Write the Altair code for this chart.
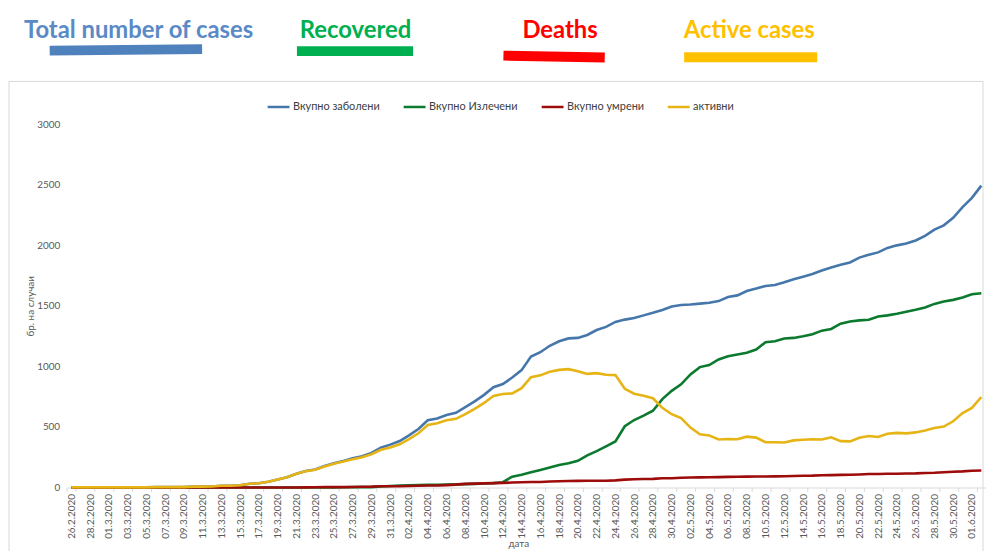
import datetime as dt
import altair as alt
import pandas as pd

# ---------------- data ----------------
start = dt.date(2020, 2, 26)
dates = [f"{d.day:02d}.{d.month}.{d.year}" for d in (start + dt.timedelta(days=i) for i in range(98))]

total = [1, 1, 1, 1, 1, 1, 1, 1, 1,
         3, 3, 3, 3, 7, 7, 9, 14, 14, 19, 31, 35, 48, 67, 85, 114,
         136, 148, 177, 201, 219, 241, 259, 285, 329, 354,
         384, 430, 483, 555, 570, 599, 617, 663, 711, 765, 828, 854,
         908, 969, 1081, 1117, 1170, 1207, 1231, 1235, 1259, 1300, 1326, 1367,
         1386, 1399, 1421, 1442, 1465, 1494, 1506, 1511, 1518, 1526, 1539, 1572,
         1586, 1622, 1642, 1664,
         1672, 1694, 1719, 1740, 1762, 1792, 1817, 1839, 1858, 1898, 1921, 1941,
         1978, 1999, 2014, 2039, 2077, 2129, 2164, 2226, 2315, 2391, 2492]

recovered = [0, 0, 0, 0, 0, 0, 0, 0, 0,
             0, 0, 0, 0, 0, 0, 0, 0, 0, 0, 0, 0, 0, 0, 0, 0,
             0, 0, 1, 1, 2, 3, 3, 3, 8, 12,
             16, 18, 20, 22, 22, 24, 26, 28, 30, 33, 36, 44,
             90, 105, 125, 145, 165, 185, 200, 220, 265, 300, 339, 380,
             506, 557, 593, 634, 730, 798, 852, 934, 994, 1011, 1057, 1084,
             1098, 1112, 1139, 1199,
             1207, 1230, 1235, 1249, 1265, 1295, 1309, 1352, 1371, 1380, 1385, 1412,
             1421, 1434, 1451, 1467, 1486, 1516, 1535, 1549, 1568, 1596, 1604]

deaths = [0, 0, 0, 0, 0, 0, 0, 0, 0,
          0, 0, 0, 0, 0, 0, 0, 0, 0, 0, 0, 0, 0, 0, 0, 0,
          1, 2, 3, 3, 3, 4, 6, 7, 10, 11,
          11, 13, 15, 17, 17, 20, 24, 30, 32, 34, 36, 38,
          41, 44, 45, 46, 49, 51, 54, 55, 56, 56, 56, 59,
          65, 68, 70, 71, 77, 77, 81, 82, 84, 85, 86, 88,
          89, 90, 91, 91,
          92, 93, 95, 97, 98, 101, 102, 104, 106, 108, 111, 112,
          113, 114, 116, 117, 120, 122, 126, 130, 133, 138, 141]

active = [1, 1, 1, 1, 1, 1, 1, 1, 1,
          3, 3, 3, 3, 7, 7, 9, 14, 14, 19, 31, 35, 48, 67, 85, 114,
          135, 146, 173, 197, 214, 234, 250, 275, 311, 331,
          357, 399, 448, 516, 531, 555, 567, 605, 649, 698, 756, 772,
          777, 820, 911, 926, 956, 971, 977, 960, 938, 944, 931, 928,
          815, 774, 758, 737, 658, 605, 573, 495, 440, 430, 396, 400,
          399, 420, 412, 374,
          373, 371, 389, 394, 399, 396, 415, 383, 381, 410, 425, 417,
          444, 451, 447, 455, 471, 491, 503, 547, 614, 657, 747]

series_names = ["Вкупно заболени", "Вкупно Излечени", "Вкупно умрени", "активни"]
series_colors = ["#4677AA", "#0B7A2E", "#9E0B0B", "#E6B414"]

rows = []
for name, vals in zip(series_names, [total, recovered, deaths, active]):
    for i, (d, v) in enumerate(zip(dates, vals)):
        rows.append({"date": d, "series": name, "value": v, "idx": i})
df = pd.DataFrame(rows)
one = pd.DataFrame({"k": [0]})

FONT = "Lato"
GREY = "#595959"

# ---------------- chart ----------------
lines = alt.Chart(df).mark_line(strokeWidth=2.6).encode(
    x=alt.X("date:O", sort=dates, bandPosition=0.5,
            scale=alt.Scale(type="band", paddingInner=0, paddingOuter=0),
            axis=alt.Axis(values=dates[::2], title="дата", labelAngle=-90,
                          labelAlign="right", labelBaseline="middle",
                          labelFont=FONT, labelFontSize=10, labelColor=GREY,
                          labelPadding=2, labelOverlap=False,
                          tickSize=4, tickColor="#D9D9D9", tickBand="extent",
                          domainColor="#D9D9D9", grid=False,
                          titleFont=FONT, titleFontSize=10, titleFontWeight="normal",
                          titleColor=GREY, titleX=455, titleY=59,
                          titleBaseline="alphabetic", titleAlign="center")),
    y=alt.Y("value:Q", scale=alt.Scale(domain=[0, 3000], nice=False),
            axis=alt.Axis(values=[0, 500, 1000, 1500, 2000, 2500, 3000], format="d",
                          title="бр. на случаи", grid=False, domain=False,
                          ticks=False, tickSize=0, labelPadding=7,
                          labelFont=FONT, labelFontSize=10, labelColor=GREY,
                          titleFont=FONT, titleFontSize=10, titleFontWeight="normal",
                          titleColor=GREY, titleX=-31)),
    color=alt.Color("series:N",
                    scale=alt.Scale(domain=series_names, range=series_colors),
                    legend=alt.Legend(orient="none", legendX=201, legendY=-30,
                                      direction="horizontal", title=None,
                                      symbolType="stroke", symbolStrokeWidth=2.5,
                                      symbolSize=484, labelFont=FONT,
                                      labelFontSize=11, labelColor="#404040",
                                      labelOffset=2, columnPadding=18, padding=0)),
    order=alt.Order("idx:Q"),
)

frame = alt.Chart(one).mark_rect(fillOpacity=0, stroke="#D9D9D9", strokeWidth=1).encode(
    x=alt.value(-58), x2=alt.value(923), y=alt.value(-43), y2=alt.value(470))

def note(text, color, cx):
    return alt.Chart(one).mark_text(text=text, font=FONT, fontSize=24, fontWeight="bold",
                                    color=color, align="center", baseline="alphabetic").encode(
        x=alt.value(cx), y=alt.value(-87))

def bar(color, x1, x2, y1, y2):
    return alt.Chart(one).mark_rule(color=color, strokeWidth=10, strokeCap="butt").encode(
        x=alt.value(x1), x2=alt.value(x2), y=alt.value(y1), y2=alt.value(y2))

chart = alt.layer(
    frame,
    note("Total number of cases", "#5A8AC6", 72.5),
    note("Recovered", "#00B050", 291),
    note("Deaths", "#FF0000", 497),
    note("Active cases", "#FFC000", 687.5),
    bar("#4F81BD", -17, 136.5, -74, -75.5),
    bar("#00B050", 232, 349, -73.5, -73.5),
    bar("#FF0000", 440, 542, -69, -67),
    bar("#FFC000", 622, 756, -67.3, -67.3),
    lines,
).properties(
    width=926, height=366,
    padding={"left": 59, "top": 115, "right": 0, "bottom": 62},
    autosize=alt.AutoSizeParams(type="none"),
    background="white",
).configure_view(stroke=None)

chart.save("out.html", embed_options={"renderer": "svg", "actions": False})
